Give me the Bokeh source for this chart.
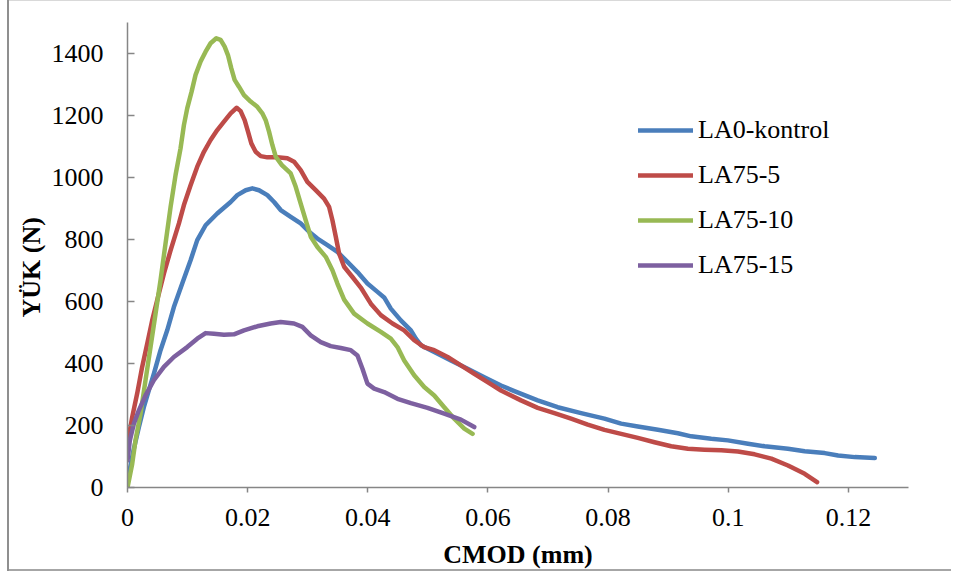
from bokeh.plotting import figure
from bokeh.models import FixedTicker, Range1d, Title
from bokeh.embed import file_html
from bokeh.resources import INLINE

# ---------------- data ----------------
series_names = ["LA0-kontrol", "LA75-5", "LA75-10", "LA75-15"]
series_colors = ["#4A7EBB", "#BE4B48", "#98B954", "#7D60A0"]

la0_x = [0, 0.001, 0.0019, 0.00272, 0.00355, 0.00439, 0.0055, 0.00661, 0.00772, 0.00911, 0.0105,
         0.01161, 0.013, 0.01494, 0.01717, 0.01828, 0.01967, 0.02078, 0.02189, 0.02328, 0.0244,
         0.0255, 0.02717, 0.02883, 0.03022, 0.03161, 0.03328, 0.03494, 0.03661, 0.03828, 0.03994,
         0.04161, 0.04272, 0.04383, 0.0455, 0.04717, 0.048, 0.04883, 0.05106, 0.05383, 0.05661,
         0.05939, 0.06217, 0.06439, 0.06828, 0.07161, 0.0755, 0.07939, 0.08217, 0.08494, 0.08828,
         0.09161, 0.09383, 0.09717, 0.09994, 0.10328, 0.10606, 0.10994, 0.11272, 0.11606, 0.11828,
         0.12106, 0.12439]
la0_y = [20, 120, 195, 259, 313, 367, 443, 507, 582, 658, 733,
         798, 846, 884, 921, 943, 959, 965, 959, 943, 921,
         895, 873, 852, 825, 803, 782, 760, 728, 695, 658,
         631, 613, 577, 539, 507, 480, 459, 437, 410, 383,
         356, 329, 311, 281, 259, 240, 222, 206, 197, 186,
         175, 165, 157, 152, 141, 133, 125, 117, 111, 103,
         98, 95]

la5_x = [0, 0.00078, 0.00161, 0.00244, 0.00328, 0.00411, 0.00494, 0.00606, 0.00717, 0.00856,
         0.00939, 0.0105, 0.01161, 0.01272, 0.01383, 0.01494, 0.01606, 0.01717, 0.01817, 0.01883,
         0.0195, 0.02006, 0.02061, 0.02133, 0.02217, 0.02328, 0.02494, 0.02661, 0.02772, 0.02883,
         0.02994, 0.03133, 0.03272, 0.03356, 0.03411, 0.03467, 0.03522, 0.03606, 0.03744, 0.03883,
         0.0405, 0.04217, 0.04411, 0.04606, 0.04772, 0.04939, 0.05106, 0.05328, 0.0555, 0.05772,
         0.05994, 0.06217, 0.0655, 0.06828, 0.07106, 0.07383, 0.07661, 0.07939, 0.08217, 0.08494,
         0.08772, 0.0905, 0.09328, 0.09606, 0.09883, 0.10161, 0.10439, 0.10717, 0.10994, 0.11272,
         0.11478]
la5_y = [140, 227, 303, 389, 464, 539, 604, 690, 765, 852,
         911, 975, 1035, 1083, 1121, 1153, 1180, 1207, 1225, 1214,
         1185, 1148, 1110, 1083, 1069, 1065, 1065, 1062, 1051, 1024,
         986, 959, 932, 905, 862, 809, 755, 712, 679, 645,
         593, 556, 529, 507, 475, 453, 443, 421, 394, 367,
         340, 313, 281, 257, 240, 222, 203, 186, 173, 160,
         146, 133, 125, 122, 120, 116, 107, 93, 71, 44,
         17]

la10_x = [0, 0.00078, 0.00133, 0.00217, 0.003, 0.00383, 0.00467, 0.0055, 0.00633, 0.00717,
          0.008, 0.00883, 0.00939, 0.00994, 0.01067, 0.01133, 0.01217, 0.013, 0.01383, 0.01478,
          0.0155, 0.01617, 0.01672, 0.01728, 0.01783, 0.01855, 0.01939, 0.0205, 0.02161, 0.02244,
          0.023, 0.02356, 0.02411, 0.02467, 0.0257, 0.02717, 0.028, 0.02883, 0.02967, 0.0305,
          0.03161, 0.033, 0.03411, 0.03494, 0.03606, 0.03772, 0.03994, 0.04217, 0.04383, 0.04494,
          0.04606, 0.04772, 0.04939, 0.05106, 0.05272, 0.05439, 0.05606, 0.05744]
la10_y = [0, 76, 152, 238, 346, 453, 561, 669, 787, 905,
          1008, 1094, 1169, 1223, 1277, 1331, 1374, 1406, 1433, 1449,
          1444, 1422, 1395, 1352, 1315, 1293, 1266, 1245, 1228, 1207,
          1185, 1148, 1105, 1067, 1040, 1013, 970, 916, 862, 809,
          776, 744, 701, 658, 606, 561, 529, 502, 480, 453,
          410, 362, 324, 297, 259, 222, 190, 173]

la15_x = [0, 0.00039, 0.00106, 0.00189, 0.003, 0.00439, 0.00606, 0.00772, 0.00994, 0.01161,
          0.013, 0.01439, 0.01606, 0.01772, 0.01939, 0.02161, 0.02383, 0.0255, 0.02772, 0.02911,
          0.0305, 0.03217, 0.03383, 0.0355, 0.03717, 0.03828, 0.03911, 0.03994, 0.04106, 0.04272,
          0.04494, 0.04717, 0.04994, 0.05272, 0.0555, 0.05772]
la15_y = [87, 152, 206, 249, 297, 346, 389, 421, 453, 480,
          498, 496, 493, 494, 507, 520, 529, 534, 529, 518,
          491, 469, 456, 450, 443, 426, 383, 335, 319, 308,
          286, 272, 257, 238, 219, 195]

x_ticks = [0, 0.02, 0.04, 0.06, 0.08, 0.1, 0.12]
x_tick_labels = ["0", "0.02", "0.04", "0.06", "0.08", "0.1", "0.12"]
y_ticks = [0, 200, 400, 600, 800, 1000, 1200, 1400]

x_title = "CMOD (mm)"
y_title = "YÜK (N)"

# ---------------- figure ----------------
FONT = "Liberation Serif"

p = figure(width=951, height=571, output_backend="svg", toolbar_location=None,
           x_range=Range1d(0, 0.13), y_range=Range1d(0, 1500),
           min_border_left=127, min_border_right=43, min_border_top=22, min_border_bottom=84)
# chart-area border drawn as CSS background lines (no effect on layout)
p.styles = {
    "background": ("linear-gradient(#8f8f8f, #8f8f8f) 7px 0 / 2px 100% no-repeat, "
                   "linear-gradient(#d9d9d9, #d9d9d9) 7px 0 / 100% 1px no-repeat, "
                   "linear-gradient(#a6a6a6, #a6a6a6) 7px 100% / 100% 2px no-repeat, "
                   "white")
}

p.grid.visible = False
p.outline_line_color = None
p.background_fill_color = "white"
p.border_fill_color = None

all_x = [la0_x, la5_x, la10_x, la15_x]
all_y = [la0_y, la5_y, la10_y, la15_y]
for xs, ys, name, col in zip(all_x, all_y, series_names, series_colors):
    p.line(xs, ys, line_color=col, line_width=4.5, line_join="round", line_cap="round",
           legend_label=name)

# axes
for ax in (p.xaxis[0], p.yaxis[0]):
    ax.axis_line_color = "#868686"
    ax.axis_line_width = 1.5
    ax.major_tick_line_color = "#868686"
    ax.major_tick_line_width = 1.5
    ax.minor_tick_line_color = None
    ax.major_label_text_font = FONT
    ax.major_label_text_font_size = "26px"
    ax.major_label_text_color = "black"
    ax.axis_label_text_font = FONT
    ax.axis_label_text_font_size = "26px"
    ax.axis_label_text_font_style = "bold"
    ax.axis_label_text_color = "black"

p.xaxis[0].ticker = FixedTicker(ticks=x_ticks)
p.xaxis[0].major_label_overrides = {t: l for t, l in zip(x_ticks, x_tick_labels)}
p.xaxis[0].major_tick_out = 5
p.xaxis[0].major_tick_in = 0
p.xaxis[0].major_label_standoff = 16
p.xaxis[0].axis_label = x_title
p.xaxis[0].axis_label_standoff = 11

p.yaxis[0].ticker = FixedTicker(ticks=y_ticks)
p.yaxis[0].major_tick_out = 0
p.yaxis[0].major_tick_in = 7
p.yaxis[0].major_label_standoff = 24

# y title, placed from the bottom of its panel (sits below the frame centre in the original)
p.add_layout(Title(text=y_title, align="left", offset=170, standoff=5,
                   text_font=FONT, text_font_size="26px", text_font_style="bold",
                   text_color="black"), "left")

# legend
lg = p.legend[0]
lg.location = (511, 207)
lg.border_line_color = None
lg.background_fill_alpha = 0
lg.padding = 0
lg.margin = 0
lg.spacing = 15
lg.glyph_width = 55
lg.glyph_height = 30
lg.label_height = 30
lg.label_standoff = 5
lg.label_text_font = FONT
lg.label_text_font_size = "26px"
lg.label_text_color = "black"

open("out.html", "w").write(file_html(p, INLINE))
